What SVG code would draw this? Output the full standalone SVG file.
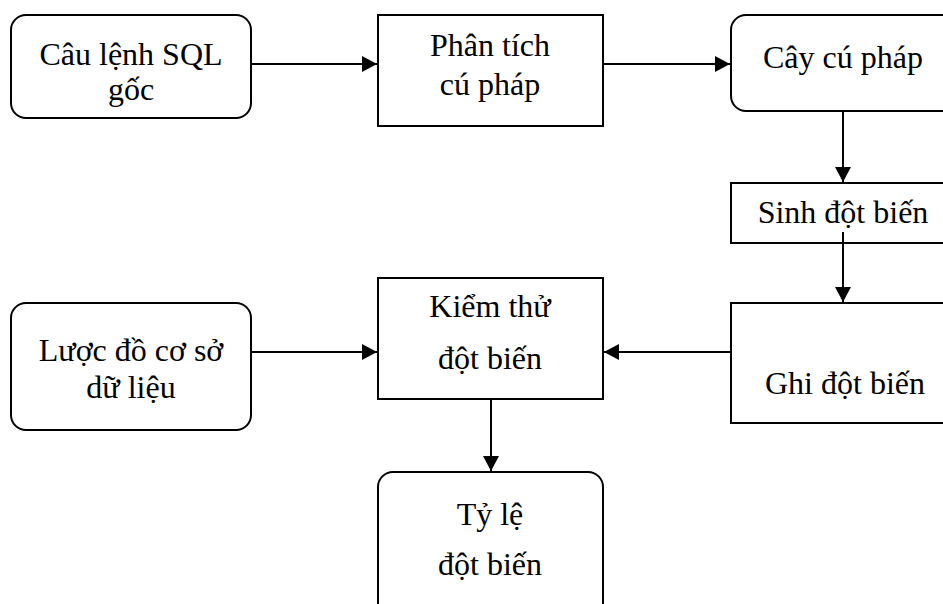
<svg xmlns="http://www.w3.org/2000/svg" width="943" height="604" viewBox="0 0 943 604">
<style>
.box{fill:#fff;stroke:#000;stroke-width:2}
.t{font-family:"Liberation Serif","Times New Roman",serif;font-size:32px;fill:#000;text-anchor:middle}
.c{stroke:#000;stroke-width:2;fill:none;marker-end:url(#ah)}
</style>
<defs>
<marker id="ah" markerUnits="userSpaceOnUse" markerWidth="16" markerHeight="16" refX="15" refY="8" orient="auto">
<path d="M0,0 L15,8 L0,16 Z" fill="#000"/>
</marker>
</defs>
<rect width="943" height="604" fill="#fff"/>
<g id="n1"><rect class="box" x="11" y="15" width="240" height="103" rx="15"/><text class="t" x="131" y="65">Câu lệnh SQL</text><text class="t" x="131" y="100">gốc</text></g>
<g id="n2"><rect class="box" x="378" y="15" width="225" height="111"/><text class="t" x="490" y="56">Phân tích</text><text class="t" x="490" y="95">cú pháp</text></g>
<g id="n3"><rect class="box" x="731" y="15" width="240" height="96" rx="15"/><text class="t" x="843" y="68">Cây cú pháp</text></g>
<g id="n4"><rect class="box" x="731" y="183" width="240" height="60"/><text class="t" x="843" y="223">Sinh đột biến</text></g>
<g id="n5"><rect class="box" x="731" y="303" width="240" height="120"/><text class="t" x="845" y="394">Ghi đột biến</text></g>
<g id="n6"><rect class="box" x="11" y="303" width="240" height="127" rx="15"/><text class="t" x="131" y="361">Lược đồ cơ sở</text><text class="t" x="131" y="398">dữ liệu</text></g>
<g id="n7"><rect class="box" x="378" y="278" width="225" height="121"/><text class="t" x="490" y="317">Kiểm thử</text><text class="t" x="490" y="369">đột biến</text></g>
<g id="n8"><rect class="box" x="378" y="472" width="225" height="160" rx="15"/><text class="t" x="490" y="525">Tỷ lệ</text><text class="t" x="490" y="575">đột biến</text></g>
<g id="connectors">
<path class="c" d="M251,64 H377"/>
<path class="c" d="M603,64 H730"/>
<path class="c" d="M843,111 V182"/>
<path class="c" d="M843,232 V302"/>
<path class="c" d="M731,352 H604"/>
<path class="c" d="M251,352 H377"/>
<path class="c" d="M491,399 V471"/>
</g>
</svg>
